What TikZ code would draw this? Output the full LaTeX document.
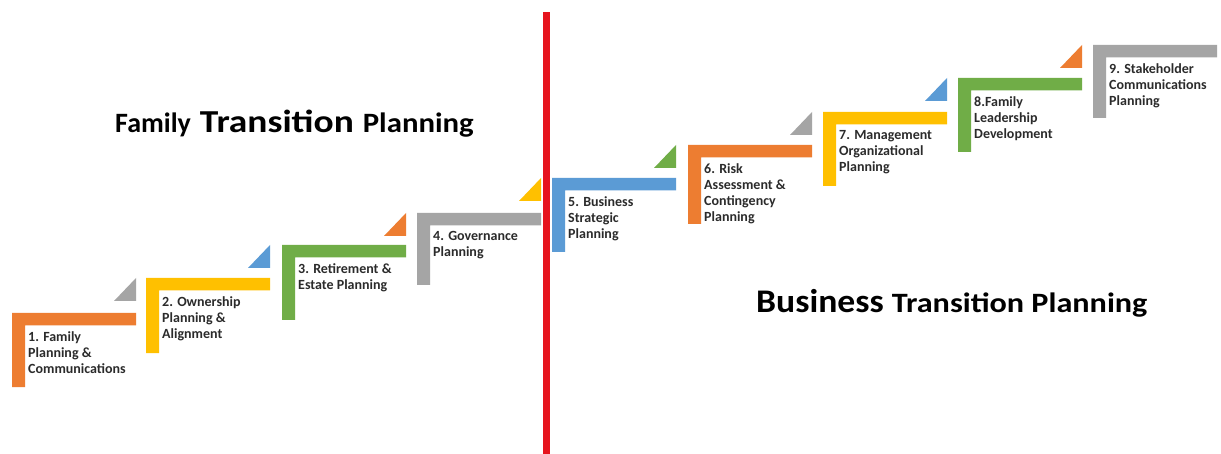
\documentclass[tikz,border=0pt]{standalone}
\usepackage{fontspec}
\setmainfont{Carlito}
\definecolor{stepOrange}{HTML}{ED7D31}
\definecolor{stepYellow}{HTML}{FFC000}
\definecolor{stepGreen}{HTML}{70AD47}
\definecolor{stepGray}{HTML}{A5A5A5}
\definecolor{stepBlue}{HTML}{5B9BD5}
\definecolor{divider}{RGB}{230,20,30}
\definecolor{labelInk}{HTML}{2B2B2B}
\tikzset{
  steptext/.style={anchor=north west, inner sep=0pt, align=left, text=labelInk,
    font=\fontsize{14}{16}\selectfont\bfseries},
  titletext/.style={anchor=base west, inner sep=0pt, text=black, font=\bfseries}
}
\begin{document}
\begin{tikzpicture}[x=1pt,y=-1pt]
\useasboundingbox (0,0) rectangle (1221,454);
\fill[white] (0,0) rectangle (1221,454);

% L-shaped steps: left, top, bottom of the leg, colour
\foreach \x/\y/\b/\c in {12/313/387/stepOrange, 146/278/353/stepYellow,
    282/245/320/stepGreen, 417/213/285/stepGray, 552/178/252/stepBlue,
    688/145/224/stepOrange, 823/112/186/stepYellow, 958/78/152/stepGreen,
    1093/45/118/stepGray}{
  \fill[\c] (\x,\y) -- (\x+124,\y) -- (\x+124,\y+12.5) -- (\x+13,\y+12.5)
    -- (\x+13,\b) -- (\x,\b) -- cycle;
}

% small corner triangles: right edge, top, colour
\foreach \r/\t/\c in {136/278/stepGray, 270/245/stepBlue, 406/213/stepOrange,
    541/178/stepYellow, 676/145/stepGreen, 812/112/stepGray,
    947/78/stepBlue, 1082/45/stepOrange}{
  \fill[\c] (\r,\t) -- (\r,\t+23) -- (\r-22,\t+23) -- cycle;
}

% dividing line
\fill[divider] (543,12) rectangle (550,454);

% step labels
\node[steptext] (s1) at (28,331) {1. Family\\Planning \&\\Communications};
\node[steptext] (s2) at (162,296) {2. Ownership\\Planning \&\\Alignment};
\node[steptext] (s3) at (298,263) {3. Retirement \&\\Estate Planning};
\node[steptext] (s4) at (433,231) {4. Governance\\Planning};
\node[steptext] (s5) at (568,196) {5. Business\\Strategic\\Planning};
\node[steptext] (s6) at (704,163) {6. Risk\\Assessment \&\\Contingency\\Planning};
\node[steptext] (s7) at (839,130) {7. Management\\Organizational\\Planning};
\node[steptext] (s8) at (974,96) {8.Family\\Leadership\\Development};
\node[steptext] (s9) at (1109,63) {9. Stakeholder\\Communications\\Planning};

% section titles
\node[titletext] (famTitle) at (115,133) {%
  {\fontsize{28}{30}\selectfont Family}\hspace{9pt}%
  \scalebox{1.17}[1]{\fontsize{32}{34}\selectfont Transition}\hspace{9pt}%
  \scalebox{1.1}[1]{\fontsize{28}{30}\selectfont Planning}};
\node[titletext] (busTitle) at (756,313) {%
  \scalebox{1.08}[1]{\fontsize{33}{35}\selectfont Business}\hspace{8pt}%
  \scalebox{1.15}[1]{\fontsize{28}{30}\selectfont Transition Planning}};
\end{tikzpicture}
\end{document}
